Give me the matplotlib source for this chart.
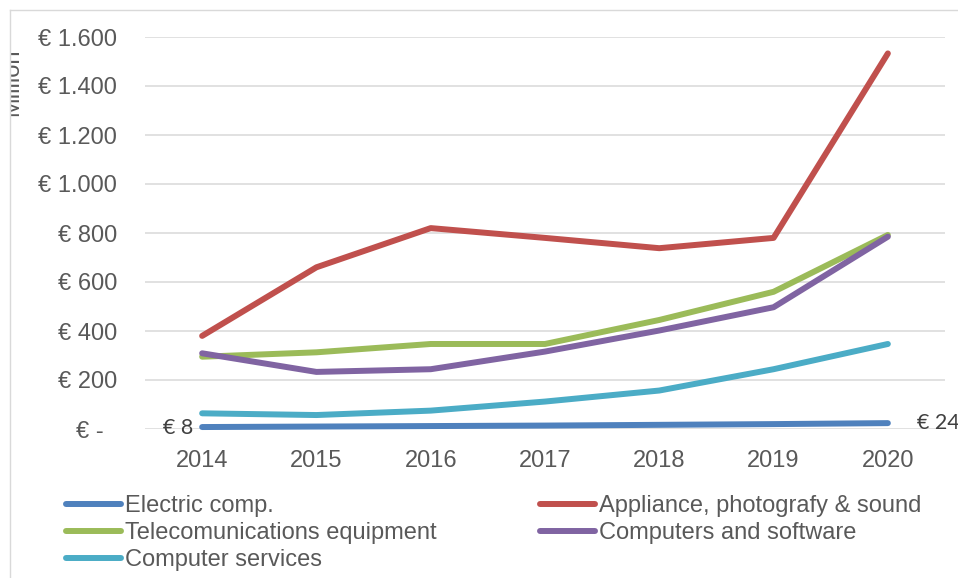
import matplotlib
matplotlib.use('Agg')
import matplotlib.pyplot as plt
from matplotlib.lines import Line2D
from matplotlib.patches import Rectangle

plt.rcParams['font.family'] = ['Liberation Sans', 'DejaVu Sans']

W, H = 958, 578

years = [2014, 2015, 2016, 2017, 2018, 2019, 2020]
electric = [8, 10, 12, 14, 17, 20, 24]
appliance = [380, 660, 820, 780, 738, 780, 1533]
telecom = [295, 313, 347, 347, 445, 560, 792]
computers = [309, 233, 244, 316, 402, 497, 785]
services = [64, 57, 75, 112, 157, 244, 347]

series = [
    ('Electric comp.', electric, '#4F81BD'),
    ('Appliance, photografy & sound', appliance, '#C0504D'),
    ('Telecomunications equipment', telecom, '#9BBB59'),
    ('Computers and software', computers, '#8064A2'),
    ('Computer services', services, '#4BACC6'),
]

y_ticks = [0, 200, 400, 600, 800, 1000, 1200, 1400, 1600]
y_tick_labels = ['€ -  ', '€ 200', '€ 400', '€ 600', '€ 800',
                 '€ 1.000', '€ 1.200', '€ 1.400', '€ 1.600']

TXT = '#595959'
GRID = '#D9D9D9'
FS = 17

fig = plt.figure(figsize=(W / 100, H / 100), dpi=100)
ax = fig.add_axes([145 / W, 149 / H, 800 / W, 392 / H])

lines = {}
for name, vals, col in series:
    ln, = ax.plot(years, vals, color=col, lw=4.3, solid_capstyle='round',
                  solid_joinstyle='round', label=name, clip_on=False, zorder=3)
    lines[name] = ln

ax.set_xlim(2013.5, 2020.5)
ax.set_ylim(0, 1600)
ax.set_xticks(years)
ax.set_xticklabels([str(y) for y in years])
ax.set_yticks(y_ticks)
ax.set_yticklabels(y_tick_labels)
ax.tick_params(axis='both', length=0, labelsize=FS, labelcolor=TXT)
ax.tick_params(axis='y', pad=20)
ax.tick_params(axis='x', pad=15)
ax.yaxis.grid(True, color=GRID, lw=1.1)
ax.set_axisbelow(True)
for s in ax.spines.values():
    s.set_visible(False)

# first / last value labels on the electric components line
lab_kw = dict(textcoords='offset pixels', va='center', fontsize=15.5,
              color='#404040', family=['Lato', 'DejaVu Sans'])
ax.annotate(f'€ {electric[0]}', (years[0], electric[0]), xytext=(-9, -1),
            ha='right', **lab_kw)
ax.annotate(f'€ {electric[-1]}', (years[-1], electric[-1]), xytext=(29, 0),
            ha='left', **lab_kw)

# legend in two columns
left_names = ['Electric comp.', 'Telecomunications equipment', 'Computer services']
right_names = ['Appliance, photografy & sound', 'Computers and software']
leg_kw = dict(loc='upper left', frameon=False, fontsize=FS, borderpad=0,
              borderaxespad=0, handlelength=2.33, handletextpad=0.17,
              labelspacing=0.22, labelcolor=TXT)
leg1 = fig.legend([lines[n] for n in left_names], left_names,
                  bbox_to_anchor=(66 / W, 1 - 495 / H), **leg_kw)
leg2 = fig.legend([lines[n] for n in right_names], right_names,
                  bbox_to_anchor=(540 / W, 1 - 495 / H), **leg_kw)

# axis title, partly hidden behind the chart border
fig.text(18 / W, 1 - 82 / H, 'Million', rotation=90, rotation_mode='anchor',
         ha='center', va='baseline', fontsize=FS, color=TXT)
fig.add_artist(Rectangle((0, 0), 10 / W, 1, transform=fig.transFigure,
                         facecolor='white', edgecolor='none', zorder=5))
fig.add_artist(Line2D([10 / W, 10 / W], [0, 1 - 10 / H], transform=fig.transFigure,
                      color=GRID, lw=1, zorder=6))
fig.add_artist(Line2D([10 / W, 1], [1 - 10 / H, 1 - 10 / H], transform=fig.transFigure,
                      color=GRID, lw=1, zorder=6))

fig.savefig('out.png', dpi=100)
